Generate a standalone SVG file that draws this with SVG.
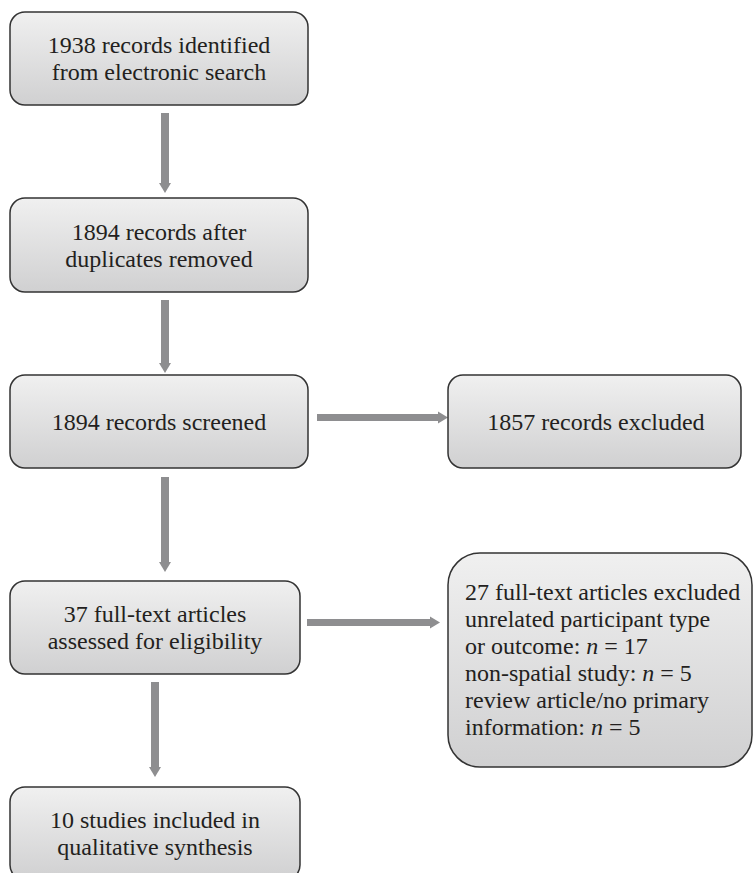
<svg xmlns="http://www.w3.org/2000/svg" width="755" height="873" viewBox="0 0 755 873">
  <defs>
    <linearGradient id="g" x1="0" y1="0" x2="0" y2="1">
      <stop offset="0" stop-color="#f0f0f0"/>
      <stop offset="1" stop-color="#d0d0d1"/>
    </linearGradient>
  </defs>
  <style>
    .box { fill: url(#g); stroke: #333333; stroke-width: 1.5; }
    .t { font-family: "Liberation Serif", "Times New Roman", serif; font-size: 24px; fill: #231f20; }
    .c { text-anchor: middle; }
    .i { font-style: italic; }
    .shaft { fill: #8e8e90; }
  </style>
  <rect width="755" height="873" fill="#ffffff"/>

  <g id="connectors">
    <!-- arrow 1 -->
    <rect class="shaft" x="161" y="113" width="8" height="71"/>
    <polygon class="shaft" points="159,183 171,183 165,193"/>
    <!-- arrow 2 -->
    <rect class="shaft" x="161" y="300" width="8" height="64"/>
    <polygon class="shaft" points="159,363 171,363 165,373"/>
    <!-- arrow 3 -->
    <rect class="shaft" x="161" y="477" width="8" height="86"/>
    <polygon class="shaft" points="159,562 171,562 165,572"/>
    <!-- arrow 4 -->
    <rect class="shaft" x="151" y="682" width="8" height="86"/>
    <polygon class="shaft" points="149,767 161,767 155,777"/>
    <!-- horizontal arrow 1 -->
    <rect class="shaft" x="317" y="414" width="122" height="7"/>
    <polygon class="shaft" points="438,411.5 438,423.5 448,417.5"/>
    <!-- horizontal arrow 2 -->
    <rect class="shaft" x="307" y="619" width="124" height="7"/>
    <polygon class="shaft" points="430,616.5 430,628.5 440,622.5"/>
  </g>

  <g id="n1">
    <rect class="box" x="10" y="12" width="298" height="93" rx="15"/>
    <text class="t c" x="159" y="53">1938 records identified</text>
    <text class="t c" x="159" y="80">from electronic search</text>
  </g>
  <g id="n2">
    <rect class="box" x="10" y="198" width="298" height="94" rx="15"/>
    <text class="t c" x="159" y="240">1894 records after</text>
    <text class="t c" x="159" y="267">duplicates removed</text>
  </g>
  <g id="n3">
    <rect class="box" x="10" y="375" width="298" height="93" rx="15"/>
    <text class="t c" x="159" y="430">1894 records screened</text>
  </g>
  <g id="n4">
    <rect class="box" x="448" y="375" width="293" height="93" rx="15"/>
    <text class="t c" x="596" y="430">1857 records excluded</text>
  </g>
  <g id="n5">
    <rect class="box" x="10" y="581" width="290" height="93" rx="15"/>
    <text class="t c" x="155" y="622">37 full-text articles</text>
    <text class="t c" x="155" y="649">assessed for eligibility</text>
  </g>
  <g id="n6">
    <rect class="box" x="448" y="553" width="304" height="214" rx="32"/>
    <text class="t" x="465" y="600">27 full-text articles excluded</text>
    <text class="t" x="465" y="627">unrelated participant type</text>
    <text class="t" x="465" y="654">or outcome: <tspan class="i">n</tspan> = 17</text>
    <text class="t" x="465" y="681">non-spatial study: <tspan class="i">n</tspan> = 5</text>
    <text class="t" x="465" y="708">review article/no primary</text>
    <text class="t" x="465" y="735">information: <tspan class="i">n</tspan> = 5</text>
  </g>
  <g id="n7">
    <rect class="box" x="10" y="787" width="290" height="93" rx="15"/>
    <text class="t c" x="155" y="828">10 studies included in</text>
    <text class="t c" x="155" y="855">qualitative synthesis</text>
  </g>
</svg>
